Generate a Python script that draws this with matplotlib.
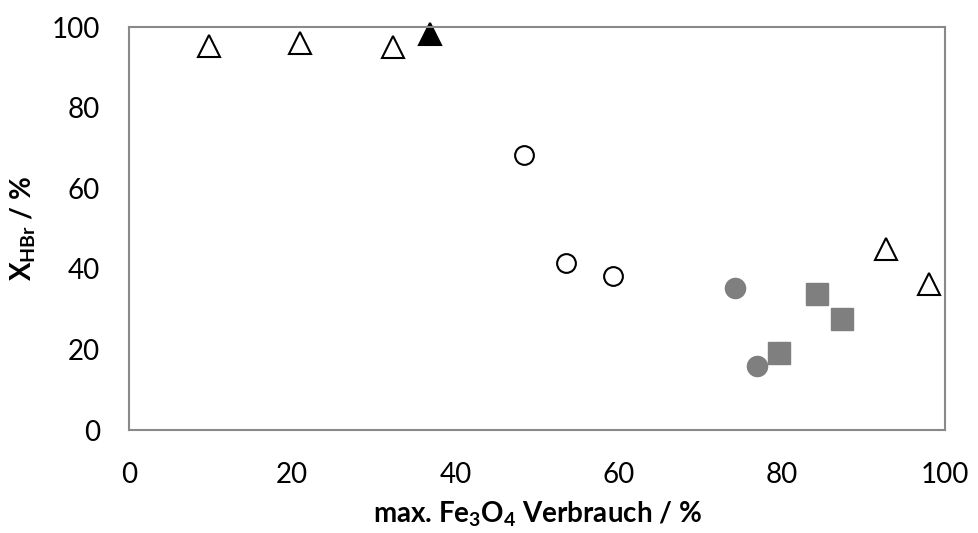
import matplotlib
matplotlib.use("Agg")
import matplotlib.pyplot as plt

plt.rcParams["font.family"] = ["Lato", "DejaVu Sans"]
plt.rcParams["mathtext.fontset"] = "custom"
plt.rcParams["mathtext.rm"] = "Lato"
plt.rcParams["mathtext.bf"] = "Lato:bold"
plt.rcParams["mathtext.default"] = "bf"

# open triangles
tri_open_x = [9.8, 21.0, 32.3, 92.8, 98.0]
tri_open_y = [95.3, 96.0, 95.1, 44.9, 36.2]
# filled black triangle
tri_fill_x = [36.9]
tri_fill_y = [98.2]
# open circles
circ_open_x = [48.4, 53.6, 59.3]
circ_open_y = [68.2, 41.5, 38.2]
# grey circles
circ_grey_x = [74.3, 77.0]
circ_grey_y = [35.3, 16.0]
# grey squares
sq_grey_x = [79.7, 84.3, 87.4]
sq_grey_y = [19.1, 33.7, 27.6]

ticks = [0, 20, 40, 60, 80, 100]

fig = plt.figure(figsize=(9.79, 5.33), dpi=100)
ax = fig.add_axes([0.1318, 0.1932, 0.8335, 0.7561])

grey = "#7f7f7f"
ax.plot(tri_open_x, tri_open_y, ls="none", marker="^", ms=16, mfc="white", mec="black", mew=1.5, clip_on=False)
ax.plot(tri_fill_x, tri_fill_y, ls="none", marker="^", ms=16, mfc="black", mec="black", mew=1.5, clip_on=False)
ax.plot(circ_open_x, circ_open_y, ls="none", marker="o", ms=13.5, mfc="white", mec="black", mew=1.5, clip_on=False)
ax.plot(circ_grey_x, circ_grey_y, ls="none", marker="o", ms=14.5, mfc=grey, mec=grey, clip_on=False)
ax.plot(sq_grey_x, sq_grey_y, ls="none", marker="s", ms=15.5, mfc=grey, mec=grey, clip_on=False)

ax.set_xlim(0, 100)
ax.set_ylim(0, 100)
ax.set_xticks(ticks)
ax.set_yticks(ticks)
ax.tick_params(length=0, labelsize=20, colors="black")
ax.tick_params(axis="x", pad=23)
ax.tick_params(axis="y", pad=21)
for sp in ax.spines.values():
    sp.set_color("#898989")
    sp.set_linewidth(1.5)

ax.set_xlabel("max. Fe$_3$O$_4$ Verbrauch / %", fontsize=20, fontweight="bold", labelpad=8)
ax.set_ylabel("X$_{HBr}$ / %", fontsize=20, fontweight="bold", labelpad=10)

fig.savefig("out.png", dpi=100)
